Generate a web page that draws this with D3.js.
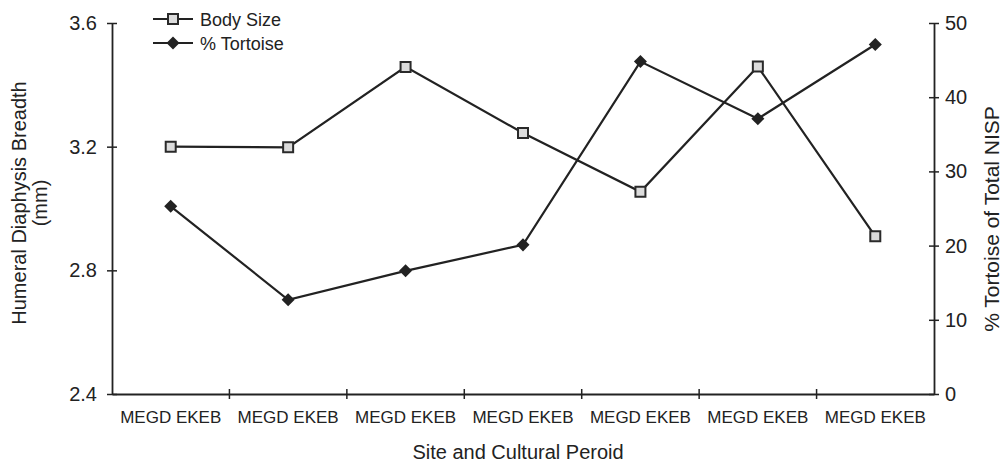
<!DOCTYPE html>
<html><head><meta charset="utf-8">
<script src="https://cdn.jsdelivr.net/npm/d3@7"></script>
<style>body{margin:0;background:#fff}svg{display:block;font-family:"Liberation Sans",Arial,sans-serif}</style>
</head><body><svg id="c" width="1002" height="462"></svg>
<script>
const categories = ["MEGD EKEB","MEGD EKEB","MEGD EKEB","MEGD EKEB","MEGD EKEB","MEGD EKEB","MEGD EKEB"];
const bodySize = [3.20, 3.198, 3.458, 3.244, 3.054, 3.459, 2.91];
const tortoise = [25.3, 12.7, 16.6, 20.1, 44.8, 37.1, 47.1];
const leftTicks = [2.4, 2.8, 3.2, 3.6];
const rightTicks = [0, 10, 20, 30, 40, 50];

const svg = d3.select("#c");
const L = 112, R = 934, T = 23, B = 394;
const ink = "#222";
const idx = categories.map((d,i)=>i);
const x = d3.scaleBand().domain(idx).range([L, R]);
const yL = d3.scaleLinear().domain([2.4, 3.6]).range([B, T]);
const yR = d3.scaleLinear().domain([0, 50]).range([B, T]);
const cx = i => x(i) + x.bandwidth()/2;

const gL = svg.append("g").attr("transform",`translate(${L},0)`)
  .call(d3.axisLeft(yL).tickValues(leftTicks).tickFormat(d3.format(".1f")).tickSizeInner(5).tickSizeOuter(0).tickPadding(10));
const gR = svg.append("g").attr("transform",`translate(${R},0)`)
  .call(d3.axisRight(yR).tickValues(rightTicks).tickSizeInner(5).tickSizeOuter(0).tickPadding(6));
const gX = svg.append("g").attr("transform",`translate(0,${B})`)
  .call(d3.axisBottom(x).tickValues([]).tickSizeOuter(0));
[gL, gR].forEach(g=>{
  g.selectAll(".tick line").attr("x1", -5).attr("x2", 5);
});
const bounds = idx.map(i=>x(i)).concat([R]);
gX.selectAll("line.xt").data(bounds.slice(1,-1)).enter().append("line")
  .attr("x1",d=>d).attr("x2",d=>d).attr("y1",-5).attr("y2",5).attr("stroke",ink).attr("stroke-width",1.5);
gX.selectAll("text.xl").data(idx).enter().append("text")
  .attr("x",i=>cx(i)).attr("y",29).attr("text-anchor","middle")
  .attr("font-size",17).attr("fill",ink).text(i=>categories[i]);

svg.selectAll(".domain").attr("stroke",ink).attr("stroke-width",1.8);
svg.selectAll(".tick line").attr("stroke",ink).attr("stroke-width",1.5);
svg.selectAll(".tick text").attr("font-size",20).attr("fill",ink).attr("font-family","Liberation Sans, Arial, sans-serif");

svg.append("text").attr("transform","translate(26,203) rotate(-90)").attr("text-anchor","middle")
  .attr("font-size",20).attr("fill",ink).text("Humeral Diaphysis Breadth");
svg.append("text").attr("transform","translate(47,203) rotate(-90)").attr("text-anchor","middle")
  .attr("font-size",20).attr("fill",ink).text("(mm)");
svg.append("text").attr("transform","translate(999,219) rotate(-90)").attr("text-anchor","middle")
  .attr("font-size",21).attr("fill",ink).text("% Tortoise of Total NISP");
svg.append("text").attr("x",518).attr("y",459).attr("text-anchor","middle")
  .attr("font-size",20).attr("fill",ink).text("Site and Cultural Peroid");

const lineL = d3.line().x((d,i)=>cx(i)).y(d=>yL(d));
const lineR = d3.line().x((d,i)=>cx(i)).y(d=>yR(d));
svg.append("path").attr("d",lineL(bodySize)).attr("fill","none").attr("stroke",ink).attr("stroke-width",2.2);
svg.append("path").attr("d",lineR(tortoise)).attr("fill","none").attr("stroke",ink).attr("stroke-width",2.2);

const sq = d3.symbol().type(d3.symbolSquare).size(100);
const dm = d3.symbol().type(d3.symbolSquare).size(85);
svg.selectAll("path.sq").data(bodySize).enter().append("path").attr("class","sq")
  .attr("d",sq).attr("transform",(d,i)=>`translate(${cx(i)},${yL(d)})`)
  .attr("fill","#dcdcdc").attr("stroke","#2a2a2a").attr("stroke-width",2);
svg.selectAll("path.dm").data(tortoise).enter().append("path").attr("class","dm")
  .attr("d",dm).attr("transform",(d,i)=>`translate(${cx(i)},${yR(d)}) rotate(45)`)
  .attr("fill",ink);

const lg = svg.append("g");
const rows = [{name:"Body Size",sym:sq,fill:"#dcdcdc",stroke:"#2a2a2a",rot:0},{name:"% Tortoise",sym:dm,fill:ink,stroke:"none",rot:45}];
rows.forEach((r,k)=>{
  const yy = 19 + k*24;
  lg.append("line").attr("x1",153).attr("x2",193).attr("y1",yy).attr("y2",yy).attr("stroke",ink).attr("stroke-width",2);
  lg.append("path").attr("d",r.sym).attr("transform",`translate(173,${yy}) rotate(${r.rot})`).attr("fill",r.fill).attr("stroke",r.stroke).attr("stroke-width",2);
  lg.append("text").attr("x",200).attr("y",yy+6.5).attr("font-size",18).attr("fill",ink).text(r.name);
});
</script></body></html>
